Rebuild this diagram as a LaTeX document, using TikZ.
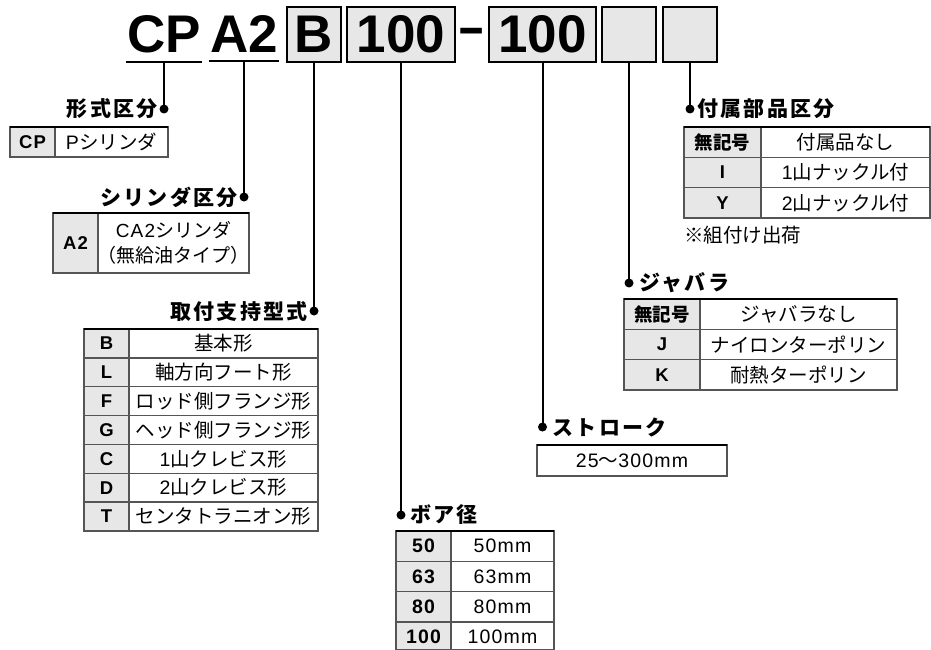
\documentclass[tikz,border=0pt]{standalone}
\usepackage{fontspec}
\setmainfont{Liberation Sans}
\newfontfamily\hv{Liberation Sans}[LetterSpace=6]
\newfontfamily\jp{Noto Sans CJK JP}
\newfontfamily\jpt{Noto Sans CJK JP}[LetterSpace=11]
\definecolor{kf}{HTML}{E6E7E6}
\definecolor{gl}{HTML}{555555}
\tikzset{
  hbox/.style={draw=black, line width=2pt, fill=kf, minimum height=55pt, inner sep=0pt,
    font=\fontsize{53}{53}\selectfont\bfseries},
  htxt/.style={inner xsep=0.5pt, inner ysep=8pt, font=\fontsize{53}{53}\selectfont\bfseries, anchor=base},
  conn/.style={line width=2pt},
  dot/.style={circle, fill=black, minimum size=9pt, inner sep=0pt},
  ttl/.style={font=\fontsize{21}{23}\selectfont\jpt\bfseries, inner sep=0pt},
  key/.style={font=\fontsize{18.5}{20}\selectfont\hv\bfseries, inner sep=0pt},
  val/.style={font=\fontsize{19.5}{21}\selectfont\jp, inner sep=0pt},
  grid/.style={draw=gl, line width=1.3pt},
  topb/.style={draw=black, line width=2.6pt},
}
\begin{document}
\begin{tikzpicture}[x=1pt,y=-1pt]
\useasboundingbox (0,0) rectangle (931,650);
\fill[white] (0,0) rectangle (931,650);

% ---------- header ----------
\node[htxt] (cp) at (164,53) {CP};
\node[htxt] (a2) at (244,53) {A2};
\draw[line width=2pt] (cp.south west) -- (cp.south east);
\draw[line width=2pt] (a2.south west) -- (a2.south east);
\node[hbox, minimum width=54pt] (hB) at (314,34.5) {B};
\node[hbox, minimum width=108pt] (hBore) at (401,34.5) {100};
\node[inner sep=0pt, anchor=base, font=\fontsize{53}{53}\selectfont\bfseries] (hdash) at (471.5,44) {\scalebox{1.6}[0.9]{-}};
\node[hbox, minimum width=107pt] (hStroke) at (542.5,34.5) {100};
\node[hbox, minimum width=54pt] (hBel) at (629,34.5) {};
\node[hbox, minimum width=54pt] (hAcc) at (690,34.5) {};

% ---------- dots ----------
\node[dot] (d1) at (164,109) {};
\node[dot] (d2) at (244,197) {};
\node[dot] (d3) at (314,311) {};
\node[dot] (d4) at (401,515) {};
\node[dot] (d5) at (542.5,427) {};
\node[dot] (d6) at (629,283) {};
\node[dot] (d7) at (690,109) {};

% ---------- connectors ----------
\draw[conn] (cp.south) -- (d1.center);
\draw[conn] (a2.south) -- (d2.center);
\draw[conn] (hB.south) -- (d3.center);
\draw[conn] (hBore.south) -- (d4.center);
\draw[conn] (hStroke.south) -- (d5.center);
\draw[conn] (hBel.south) -- (d6.center);
\draw[conn] (hAcc.south) -- (d7.center);

% ---------- titles ----------
\node[ttl, anchor=east] (t1) at ([xshift=-6pt]d1.center) {形式区分};
\node[ttl, anchor=east] (t2) at ([xshift=-6pt]d2.center) {シリンダ区分};
\node[ttl, anchor=east] (t3) at ([xshift=-6pt]d3.center) {取付支持型式};
\node[ttl, anchor=west] (t4) at ([xshift=9pt]d4.center) {ボア径};
\node[ttl, anchor=west] (t5) at ([xshift=10pt]d5.center) {ストローク};
\node[ttl, anchor=west] (t6) at ([xshift=10pt]d6.center) {ジャバラ};
\node[ttl, anchor=west] (t7) at ([xshift=7pt]d7.center) {付属部品区分};

% ---------- table: 形式区分 ----------
\fill[kf] (10,127) rectangle (55,157);
\draw[grid] (10,127) rectangle (168,157);
\draw[grid] (55,127) -- (55,157);
\draw[topb] (10,127) -- (168,127);
\node[key] (cpk) at (32.5,142) {CP};
\node[val] (cpv) at (111.5,142) {{\hv P}シリンダ};

% ---------- table: シリンダ区分 ----------
\fill[kf] (53,213) rectangle (98,273);
\draw[grid] (53,213) rectangle (249,273);
\draw[grid] (98,213) -- (98,273);
\draw[topb] (53,213) -- (249,213);
\node[key] (a2k) at (75.5,243) {A2};
\node[val, align=center, font=\fontsize{19}{25.5}\selectfont\jp] (a2v) at (173.5,243) {{\hv CA2}シリンダ\\（無給油タイプ）};

% ---------- table: 取付支持型式 ----------
\fill[kf] (84,329) rectangle (129,531);
\foreach \i in {1,...,6} \draw[grid] (84,329+28.857*\i) -- (318,329+28.857*\i);
\draw[grid] (84,329) rectangle (318,531);
\draw[grid] (129,329) -- (129,531);
\draw[topb] (84,329) -- (318,329);
\foreach \k/\v [count=\i from 0] in {B/{基本形}, L/{軸方向フート形}, F/{ロッド側フランジ形}, G/{ヘッド側フランジ形}, C/{{\hv 1}山クレビス形}, D/{{\hv 2}山クレビス形}, T/{センタトラニオン形}} {
  \node[key] (mk\i) at (106.5,343.4+28.857*\i) {\k};
  \node[val] (mv\i) at (223.5,343.4+28.857*\i) {\v};
}

% ---------- table: ボア径 ----------
\fill[kf] (396,531) rectangle (451,652);
\foreach \y in {561.3,591.7,622} \draw[grid] (396,\y) -- (554,\y);
\draw[grid] (396,531) rectangle (554,650);
\draw[grid] (451,531) -- (451,650);
\draw[topb] (396,531) -- (554,531);
\foreach \k [count=\i from 0] in {50,63,80,100} {
  \node[key, font=\fontsize{19.5}{20}\selectfont\hv\bfseries] (bk\i) at (423.5,546.2+30.33*\i) {\k};
  \node[val, font=\fontsize{19.5}{20}\selectfont\hv] (bv\i) at (502.5,546.2+30.33*\i) {\k mm};
}

% ---------- table: ストローク ----------
\draw[grid] (537,445) rectangle (727,476);
\draw[topb] (537,445) -- (727,445);
\node[val] (sv) at (632,460.5) {{\hv 25}〜{\hv 300mm}};

% ---------- table: ジャバラ ----------
\fill[kf] (624,299) rectangle (700,390);
\foreach \y in {329.3,359.7} \draw[grid] (624,\y) -- (897,\y);
\draw[grid] (624,299) rectangle (897,390);
\draw[grid] (700,299) -- (700,390);
\draw[topb] (624,299) -- (897,299);
\foreach \k/\v [count=\i from 0] in {{{\jp 無記号}}/{ジャバラなし}, J/{ナイロンターポリン}, K/{耐熱ターポリン}} {
  \node[key] (jk\i) at (662,314.2+30.33*\i) {\k};
  \node[val] (jv\i) at (798.5,314.2+30.33*\i) {\v};
}

% ---------- table: 付属部品区分 ----------
\fill[kf] (684,127) rectangle (761,218);
\foreach \y in {157.3,187.7} \draw[grid] (684,\y) -- (930,\y);
\draw[grid] (684,127) rectangle (930,218);
\draw[grid] (761,127) -- (761,218);
\draw[topb] (684,127) -- (930,127);
\foreach \k/\v [count=\i from 0] in {{{\jp 無記号}}/{付属品なし}, I/{{\hv 1}山ナックル付}, Y/{{\hv 2}山ナックル付}} {
  \node[key] (ak\i) at (722.5,142.2+30.33*\i) {\k};
  \node[val] (av\i) at (845.5,142.2+30.33*\i) {\v};
}
\node[val, anchor=west] (note) at (684,235) {※組付け出荷};
\end{tikzpicture}
\end{document}
